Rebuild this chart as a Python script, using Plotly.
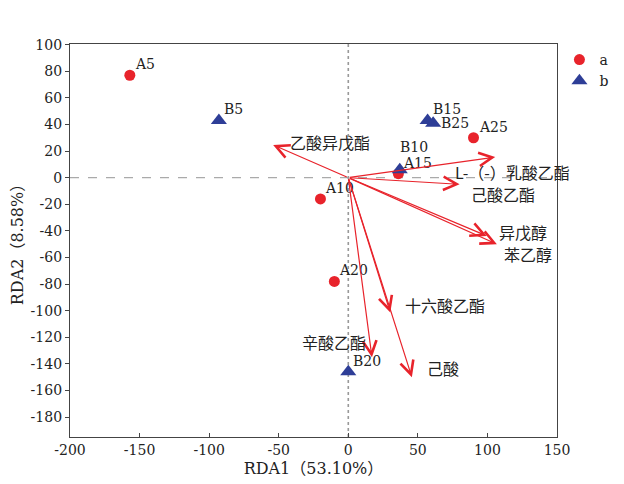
import plotly.graph_objects as go

# Sample scores
a_names = ["A5", "A10", "A15", "A20", "A25"]
a_x = [-157, -20, 36, -10, 90]
a_y = [77, -16, 3, -78, 30]

b_names = ["B5", "B10", "B15", "B20", "B25"]
b_x = [-93, 37, 57, 0, 61]
b_y = [43, 6, 43, -146, 41]

# Compound vectors (arrow tips)
v_names = ["乙酸异戊酯", "L-（-）乳酸乙酯", "己酸乙酯", "异戊醇", "苯乙醇", "十六酸乙酯", "辛酸乙酯", "己酸"]
v_x = [-54, 105.6, 80, 99.6, 106.8, 30.2, 17, 45.7]
v_y = [24.6, 15.5, -5, -43.8, -50, -101.4, -135, -150]

x_ticks = [-200, -150, -100, -50, 0, 50, 100, 150]
x_tick_labels = ["-200", "-150", "-100", "-50", "0", "50", "100", "150"]
y_ticks = [-180, -160, -140, -120, -100, -80, -60, -40, -20, 0, 20, 40, 60, 80, 100]
y_tick_labels = ["-180", "-160", "-140", "-120", "-100", "-80", "-60", "-40", "-20",
                 "0", "20", "40", "60", "80", "100"]

RED = "#E8232B"
BLUE = "#2E3E97"
SERIF = "'DejaVu Serif', 'Noto Sans CJK SC', serif"
CJK = "'Noto Sans CJK SC', 'DejaVu Serif', serif"
TXT = "#222"

fig = go.Figure()
fig.add_trace(go.Scatter(
    x=a_x, y=a_y, mode="markers", name="a",
    marker=dict(symbol="circle", size=11, color=RED),
))
fig.add_trace(go.Scatter(
    x=b_x, y=b_y, mode="markers", name="b",
    marker=dict(symbol="triangle-up", size=14, color=BLUE),
))

# Sample labels (pixel offsets from the marker)
pt_offsets = {"B10": (-2, 23), "B25": (6, 0)}
for names, xs, ys in ((a_names, a_x, a_y), (b_names, b_x, b_y)):
    for n, px, py in zip(names, xs, ys):
        dx, dy = pt_offsets.get(n, (3, 11))
        fig.add_annotation(x=px, y=py, xref="x", yref="y", text=n,
                           showarrow=False, xanchor="left", yanchor="middle",
                           xshift=dx, yshift=dy,
                           font=dict(family=SERIF, size=14, color=TXT))

# Reference lines
fig.add_shape(type="line", xref="x", yref="y", x0=-200, x1=150, y0=0, y1=0,
              line=dict(color="#aaa", width=1.2, dash="dash"), layer="below")
fig.add_shape(type="line", xref="x", yref="y", x0=0, x1=0, y0=-195, y1=100.5,
              line=dict(color="#999", width=1.6, dash="dot"), layer="below")

# Arrows
for vx, vy in zip(v_x, v_y):
    fig.add_annotation(x=vx, y=vy, ax=0, ay=0, xref="x", yref="y",
                       axref="x", ayref="y", text="", showarrow=True,
                       arrowhead=5, arrowsize=2.2, arrowwidth=1.2,
                       arrowcolor=RED)

# Vector labels (offsets in px relative to tips)
lab_style = [
    ("left", 15, 3),
    ("left", -42, -15),
    ("left", 9, -10),
    ("left", 10, 4),
    ("left", 5, -10),
    ("left", 13, 8),
    ("right", -4, 15),
    ("left", 13, 9),
]
for name, vx, vy, (xa, xs, ys) in zip(v_names, v_x, v_y, lab_style):
    fig.add_annotation(x=vx, y=vy, xref="x", yref="y", text=name,
                       showarrow=False, xanchor=xa, yanchor="middle",
                       xshift=xs, yshift=ys,
                       font=dict(family=CJK, size=16, color=TXT))

axis_common = dict(
    showgrid=False, zeroline=False, showline=True, linecolor="#444",
    linewidth=1.3, mirror=True, tickfont=dict(family=SERIF, size=14, color=TXT),
    tickcolor="#444", ticklen=4, automargin=False,
)
fig.update_xaxes(range=[-200, 150], tickvals=x_ticks, ticktext=x_tick_labels, ticks="inside",
                 title=dict(text="RDA1（53.10%）", font=dict(family=SERIF, size=16, color=TXT), standoff=5),
                 **axis_common)
fig.update_yaxes(range=[-195, 100.5], tickvals=y_ticks, ticktext=y_tick_labels, ticks="outside",
                 title=dict(text="RDA2（8.58%）", font=dict(family=SERIF, size=16, color=TXT), standoff=2),
                 **axis_common)

# The page body adds an 8px margin, so the figure is sized to fit the window
fig.update_layout(
    width=616, height=476,
    margin=dict(l=62, r=67, t=36, b=47, autoexpand=False),
    paper_bgcolor="white", plot_bgcolor="white",
    showlegend=True,
    legend=dict(x=1.005, y=1.0, xanchor="left", yanchor="top",
                font=dict(family=SERIF, size=14, color=TXT),
                tracegroupgap=0, itemwidth=30, bgcolor="rgba(0,0,0,0)"),
)

fig.write_html("out.html")
